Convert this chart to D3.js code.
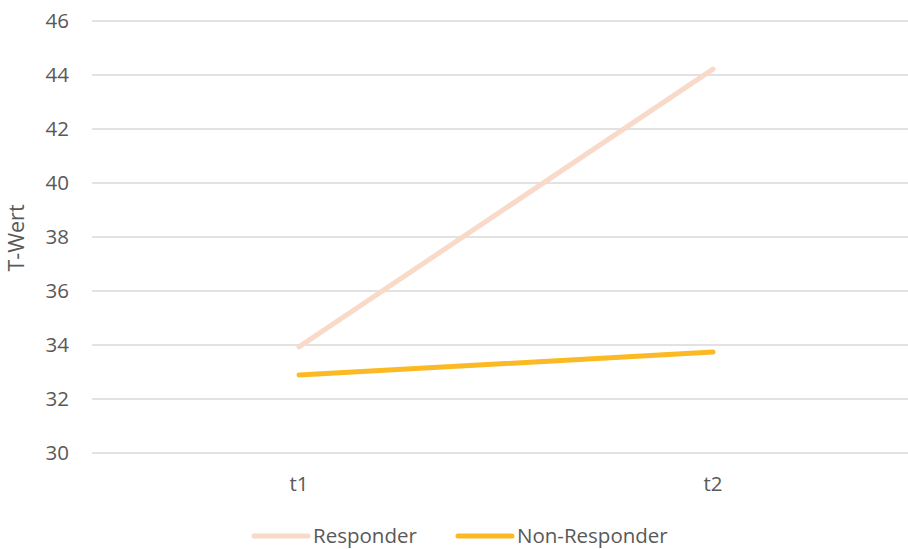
<!DOCTYPE html>
<html><head><meta charset="utf-8">
<script src="https://cdn.jsdelivr.net/npm/d3@7"></script>
<style>body{margin:0;background:#fff;}svg{display:block;}</style>
</head><body>
<svg id="c" width="908" height="549"></svg>
<script>
const categories = ["t1", "t2"];
const responder = [33.93, 44.22];
const nonResponder = [32.89, 33.74];
const yTicks = [30, 32, 34, 36, 38, 40, 42, 44, 46];
const seriesNames = ["Responder", "Non-Responder"];
const seriesColors = ["#F9D9C7", "#FBB923"];

const svg = d3.select("#c");
const font = "'Open Sans', 'Noto Sans', sans-serif";
const x = d3.scaleBand().domain(categories).range([92, 920]).padding(0);
const y = d3.scaleLinear().domain([30, 46]).range([453, 21]);

// gridlines
svg.append("g").selectAll("line").data(yTicks).join("line")
  .attr("x1", 92).attr("x2", 908)
  .attr("y1", d => y(d)).attr("y2", d => y(d))
  .attr("stroke", "#D9D9D9").attr("stroke-width", 1.5);

// y tick labels
svg.append("g").selectAll("text").data(yTicks).join("text")
  .attr("x", 69).attr("y", d => y(d)).attr("dy", "0.36em")
  .attr("text-anchor", "end").attr("font-family", font).attr("font-size", 20.5)
  .attr("fill", "#595959").text(d => d);

// x labels
svg.append("g").selectAll("text").data(categories).join("text")
  .attr("x", d => x(d) + x.bandwidth() / 2).attr("y", 491)
  .attr("text-anchor", "middle").attr("font-family", font).attr("font-size", 20.5)
  .attr("fill", "#595959").text(d => d);

// y title
svg.append("text").attr("transform", "translate(24,238) rotate(-90)")
  .attr("text-anchor", "middle").attr("font-family", font).attr("font-size", 21.5)
  .attr("fill", "#595959").text("T-Wert");

const line = d3.line().x((d, i) => x(categories[i]) + x.bandwidth() / 2).y(d => y(d));
[responder, nonResponder].forEach((vals, k) => {
  svg.append("path").datum(vals).attr("d", line)
    .attr("fill", "none").attr("stroke", seriesColors[k])
    .attr("stroke-width", 5).attr("stroke-linecap", "round");
});

// legend
const legX = [252, 456];
seriesNames.forEach((n, k) => {
  svg.append("line").attr("x1", legX[k] + 2).attr("x2", legX[k] + 56)
    .attr("y1", 536).attr("y2", 536).attr("stroke", seriesColors[k])
    .attr("stroke-width", 5).attr("stroke-linecap", "round");
  svg.append("text").attr("x", legX[k] + 61).attr("y", 536).attr("dy", "0.35em")
    .attr("font-family", font).attr("font-size", 20.5).attr("fill", "#595959").text(n);
});
</script>
</body></html>
